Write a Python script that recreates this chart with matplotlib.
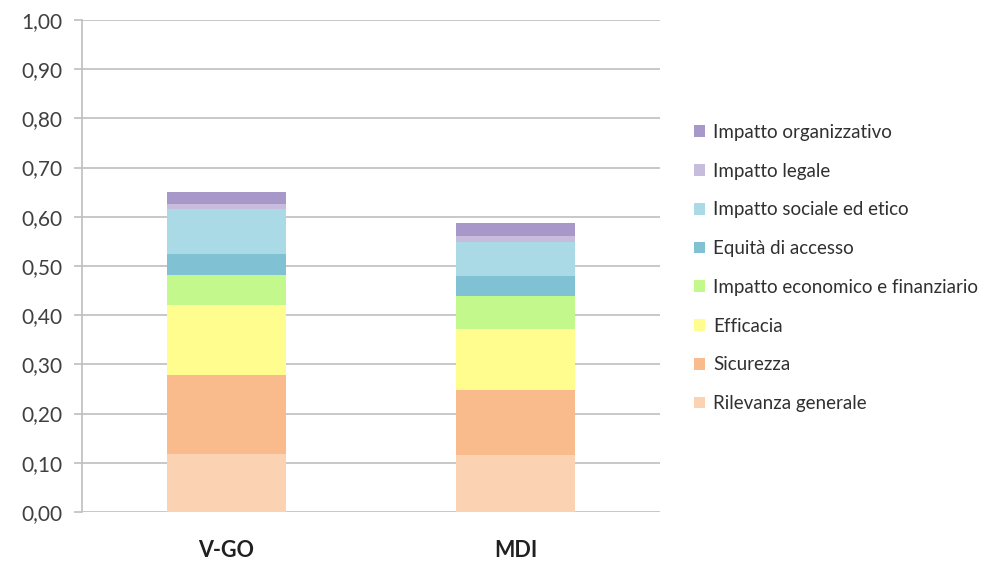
import matplotlib.pyplot as plt
import numpy as np
from matplotlib.patches import Patch

# ---------- data ----------
categories = ["V-GO", "MDI"]
series_names = [
    "Rilevanza generale",
    "Sicurezza",
    "Efficacia",
    "Impatto economico e finanziario",
    "Equità di accesso",
    "Impatto sociale ed etico",
    "Impatto legale",
    "Impatto organizzativo",
]
rilevanza = [0.117, 0.115]
sicurezza = [0.161, 0.132]
efficacia = [0.142, 0.125]
economico = [0.061, 0.066]
equita = [0.044, 0.041]
sociale = [0.090, 0.070]
legale = [0.012, 0.012]
organizzativo = [0.024, 0.027]

y_ticks = [0.0, 0.1, 0.2, 0.3, 0.4, 0.5, 0.6, 0.7, 0.8, 0.9, 1.0]

colors = ["#FCD3B2", "#F9BA8C", "#FFFD8E", "#C3F88C",
          "#80C1D4", "#AADAE5", "#C7BCDD", "#A897C9"]

plt.rcParams['font.family'] = ['Lato', 'DejaVu Sans']

fig = plt.figure(figsize=(9.96, 5.63), dpi=100)
ax = fig.add_axes([0.0823, 0.0906, 0.5804, 0.8739])

series = [rilevanza, sicurezza, efficacia, economico, equita, sociale, legale, organizzativo]
x = np.arange(len(categories))
bottom = np.zeros(len(categories))
for vals, col, name in zip(series, colors, series_names):
    ax.bar(x, vals, width=0.41, bottom=bottom, color=col, label=name, zorder=3)
    bottom += np.array(vals)

ax.set_xlim(-0.5, 1.5)
ax.set_ylim(0, 1.0)
ax.set_yticks(y_ticks)
ax.set_yticklabels([f"{v:.2f}".replace(".", ",") for v in y_ticks], fontsize=15, color="#404040")
ax.set_xticks(x)
ax.set_xticklabels(categories, fontsize=15.5, fontweight="bold", color="#202020")
ax.tick_params(axis="y", length=6, width=1.2, color="#BFBFBF", pad=8)
ax.tick_params(axis="x", length=0, pad=20)
ax.grid(axis="y", color="#BFBFBF", linewidth=1.2, zorder=0)
for s in ["top", "right", "bottom"]:
    ax.spines[s].set_visible(False)
ax.spines["left"].set_color("#BFBFBF")
ax.spines["left"].set_linewidth(1.2)

handles = [Patch(facecolor=c, label=n) for c, n in zip(colors, series_names)][::-1]
fig.legend(handles=handles, loc="upper left", bbox_to_anchor=(0.68, 0.81),
           frameon=False, fontsize=13.5, handlelength=0.6, handleheight=0.6,
           handletextpad=0.4, labelspacing=1.16, labelcolor="#303030")

fig.savefig("out.png", dpi=100)
